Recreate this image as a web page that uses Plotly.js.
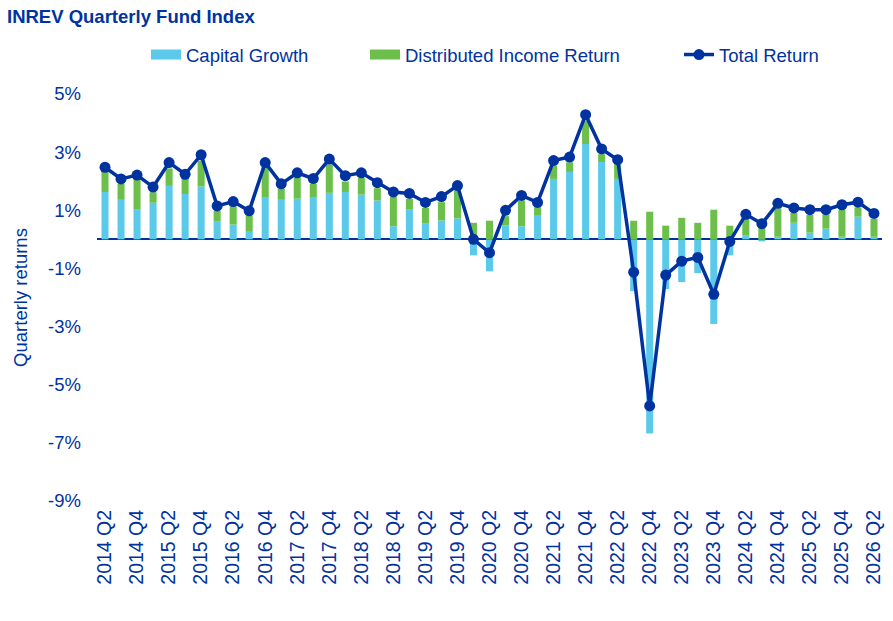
<!DOCTYPE html>
<html>
<head>
<meta charset="utf-8">
<script src="https://cdn.plot.ly/plotly-3.0.1.min.js"></script>
<style>
  html, body { margin: 0; padding: 0; background: #fff; }
  #chart { width: 893px; height: 621px; }
</style>
</head>
<body>
<div id="chart"></div>
<script>
const quarters = [
  "2014 Q2","2014 Q3","2014 Q4","2015 Q1","2015 Q2","2015 Q3","2015 Q4",
  "2016 Q1","2016 Q2","2016 Q3","2016 Q4","2017 Q1","2017 Q2","2017 Q3","2017 Q4",
  "2018 Q1","2018 Q2","2018 Q3","2018 Q4","2019 Q1","2019 Q2","2019 Q3","2019 Q4",
  "2020 Q1","2020 Q2","2020 Q3","2020 Q4","2021 Q1","2021 Q2","2021 Q3","2021 Q4",
  "2022 Q1","2022 Q2","2022 Q3","2022 Q4","2023 Q1","2023 Q2","2023 Q3","2023 Q4",
  "2024 Q1","2024 Q2","2024 Q3","2024 Q4","2025 Q1","2025 Q2","2025 Q3","2025 Q4",
  "2026 Q1","2026 Q2"
];

// capital growth, %
const capitalGrowth = [
  1.63, 1.36, 1.02, 1.26, 1.84, 1.56, 1.82,
  0.61, 0.51, 0.26, 1.43, 1.36, 1.40, 1.43, 1.60,
  1.63, 1.54, 1.34, 0.45, 1.02, 0.54, 0.65, 0.72,
  -0.55, -1.10, 0.48, 0.45, 0.81, 2.08, 2.32, 3.28,
  2.66, 2.08, -1.78, -6.68, -1.71, -1.47, -1.16, -2.91,
  -0.55, 0.13, -0.07, 0.09, 0.57, 0.23, 0.37, 0.09,
  0.78, 0.09
];

// distributed income return, %
const incomeReturn = [
  0.73, 0.55, 1.08, 0.36, 0.60, 0.52, 0.89,
  0.38, 0.63, 0.56, 1.05, 0.38, 0.72, 0.48, 0.98,
  0.36, 0.57, 0.42, 1.03, 0.37, 0.54, 0.63, 0.96,
  0.57, 0.64, 0.32, 0.89, 0.30, 0.45, 0.33, 0.80,
  0.27, 0.51, 0.64, 0.95, 0.47, 0.74, 0.57, 1.02,
  0.47, 0.58, 0.40, 0.98, 0.34, 0.61, 0.49, 0.93,
  0.32, 0.62
];

// total return, %
const totalReturn = [
  2.48, 2.08, 2.21, 1.80, 2.64, 2.24, 2.91,
  1.15, 1.30, 0.98, 2.64, 1.91, 2.29, 2.09, 2.76,
  2.19, 2.29, 1.95, 1.63, 1.58, 1.27, 1.47, 1.85,
  0.00, -0.46, 1.00, 1.51, 1.27, 2.71, 2.83, 4.29,
  3.11, 2.74, -1.13, -5.73, -1.23, -0.75, -0.62, -1.89,
  -0.07, 0.86, 0.54, 1.24, 1.08, 1.02, 1.02, 1.19,
  1.28, 0.89
];

const yTicks = [5, 3, 1, -1, -3, -5, -7, -9];

const NAVY = "#0033A0";
const CYAN = "#5BC9E9";
const GREEN = "#6CBF4A";
const FONT = "Liberation Sans, Arial, sans-serif";
const FS = 18.5;

const traces = [
  {
    type: "bar", name: "Capital Growth",
    x: quarters, y: capitalGrowth,
    marker: { color: CYAN },
    showlegend: false, hoverinfo: "skip"
  },
  {
    type: "bar", name: "Distributed Income Return",
    x: quarters, y: incomeReturn,
    marker: { color: GREEN },
    showlegend: false, hoverinfo: "skip"
  },
  {
    type: "scatter", mode: "lines+markers", name: "Total Return",
    x: quarters, y: totalReturn,
    line: { color: NAVY, width: 3.5 },
    marker: { color: NAVY, size: 11 },
    legend: "legend3", hoverinfo: "skip"
  },
  // wide flat swatches for the two bar series, like the original legend
  {
    type: "scatter", mode: "lines", name: "Capital Growth",
    x: [null], y: [null],
    line: { color: CYAN, width: 10 },
    legend: "legend", hoverinfo: "skip"
  },
  {
    type: "scatter", mode: "lines", name: "Distributed Income Return",
    x: [null], y: [null],
    line: { color: GREEN, width: 10 },
    legend: "legend2", hoverinfo: "skip"
  }
];

const legendBase = x => ({
  orientation: "h",
  x: x, xref: "container", xanchor: "left",
  y: 1 - 55 / 621, yref: "container", yanchor: "middle",
  font: { family: FONT, size: FS, color: NAVY },
  bgcolor: "rgba(0,0,0,0)"
});

const layout = {
  width: 893, height: 621,
  margin: { l: 97, r: 11, t: 94, b: 120 },
  paper_bgcolor: "#fff", plot_bgcolor: "#fff",
  font: { family: FONT, color: NAVY, size: FS },
  barmode: "relative",
  bargap: 0.56,
  showlegend: true,
  title: {
    text: "<b>INREV Quarterly Fund Index</b>",
    font: { family: FONT, size: FS, color: NAVY },
    x: 7 / 893, xanchor: "left", xref: "container",
    y: 1 - 17 / 621, yanchor: "middle", yref: "container"
  },
  legend: legendBase(146 / 893),
  legend2: legendBase(365 / 893),
  legend3: legendBase(679 / 893),
  xaxis: {
    type: "category",
    range: [-0.5, quarters.length - 0.5],
    tickmode: "array",
    tickvals: quarters.filter((q, i) => i % 2 === 0),
    ticktext: quarters.filter((q, i) => i % 2 === 0),
    tickangle: -90,
    tickfont: { family: FONT, size: 19.5, color: NAVY },
    showgrid: false, zeroline: false, showline: false,
    ticks: "", ticklabelstandoff: 4
  },
  yaxis: {
    range: [-9, 5],
    tickmode: "array",
    tickvals: yTicks,
    ticktext: yTicks.map(v => v + "%"),
    tickfont: { family: FONT, size: FS, color: NAVY },
    showgrid: false, showline: false, ticks: "",
    zeroline: true, zerolinecolor: NAVY, zerolinewidth: 2,
    ticklabelstandoff: 15,
    title: {
      text: "Quarterly returns",
      font: { family: FONT, size: FS, color: NAVY },
      standoff: 15
    }
  }
};

Plotly.newPlot("chart", traces, layout, { displayModeBar: false, staticPlot: true });
</script>
</body>
</html>
